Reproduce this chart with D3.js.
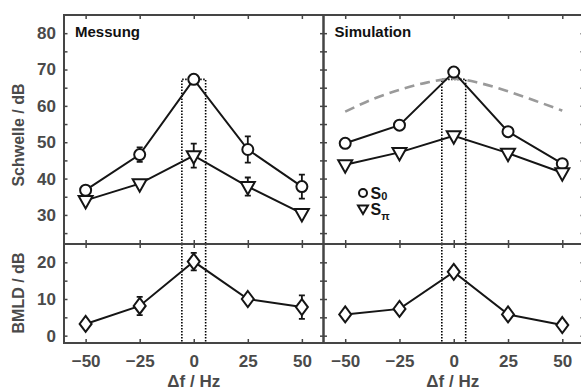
<!DOCTYPE html>
<html>
<head>
<meta charset="utf-8">
<script src="https://cdn.jsdelivr.net/npm/d3@7"></script>
<style>
  html, body { margin: 0; padding: 0; background: #fff; }
  svg { display: block; font-family: "Liberation Sans", Arial, sans-serif; font-weight: bold; }
</style>
</head>
<body>
<div id="chart"></div>
<script>
// values
const freqs = [-50, -25, 0, 25, 50];
const xTicks = [-50, -25, 0, 25, 50];
const yTopTicks = [30, 40, 50, 60, 70, 80];
const yBotTicks = [0, 10, 20];

const messS0 = [36.8, 46.6, 67.3, 48.0, 37.8];
const messS0Err = [0.8, 2.0, 0.8, 3.6, 3.3];
const messSpi = [34.0, 38.6, 46.3, 37.8, 30.4];
const messSpiErr = [0.5, 0.5, 3.3, 2.5, 0.5];

const simS0 = [49.7, 54.7, 69.3, 52.9, 44.1];
const simSpi = [43.8, 47.2, 51.8, 47.0, 41.6];

const messBmld = [3.2, 8.1, 20.2, 10.0, 7.8];
const messBmldErr = [0.5, 2.5, 2.4, 0.5, 3.2];
const simBmld = [5.8, 7.3, 17.4, 5.8, 2.9];

const curveFreqs = [-50, -37.5, -25, -12.5, 0, 12.5, 25, 37.5, 50];
const curveVals = [58.4, 61.8, 64.4, 66.4, 67.5, 66.2, 64.0, 61.4, 58.7];

const bandEdge = 5.5;    // dotted band half width, Hz
const bandTop = 67.3;    // dotted band top, dB

const W = 581, H = 391;
const AXIS = '#454545', TEXT = '#4a4a4a', INK = '#151515';

const svg = d3.select('#chart').append('svg')
  .attr('width', W).attr('height', H);

const yTop = d3.scaleLinear().domain([22, 85]).range([244, 15]);
const yBot = d3.scaleLinear().domain([-2, 25]).range([343, 244]);

const panels = [
  { title: 'Messung', x: d3.scaleLinear().domain([-60, 60]).range([64, 323.5]),
    s0: messS0, s0Err: messS0Err, spi: messSpi, spiErr: messSpiErr, bmld: messBmld, bmldErr: messBmldErr },
  { title: 'Simulation', x: d3.scaleLinear().domain([-60, 60]).range([323.5, 584]),
    s0: simS0, spi: simSpi, bmld: simBmld, curve: true, legend: true },
];

const triPath = 'M-7,-4.5L7,-4.5L0,8Z';
const diaPath = 'M0,-8L6,0L0,8L-6,0Z';

function errBars(g, x, y, vals, errs) {
  if (!errs) return;
  freqs.forEach((f, i) => {
    const cx = x(f), lo = y(vals[i] - errs[i]), hi = y(vals[i] + errs[i]);
    g.append('path')
      .attr('d', `M${cx},${lo}V${hi}M${cx - 3},${lo}H${cx + 3}M${cx - 3},${hi}H${cx + 3}`)
      .attr('stroke', INK).attr('stroke-width', 1.8).attr('fill', 'none');
  });
}

function series(g, x, y, vals, errs, marker) {
  g.append('path')
    .datum(vals)
    .attr('fill', 'none')
    .attr('stroke', INK)
    .attr('stroke-width', 2)
    .attr('d', d3.line().x((d, i) => x(freqs[i])).y((d) => y(d)));
  errBars(g, x, y, vals, errs);
  vals.forEach((v, i) => {
    const cx = x(freqs[i]), cy = y(v);
    if (marker === 'circle') {
      g.append('circle').attr('cx', cx).attr('cy', cy).attr('r', 5.5)
        .attr('fill', '#fff').attr('stroke', INK).attr('stroke-width', 2);
    } else {
      g.append('path').attr('d', marker === 'tri' ? triPath : diaPath)
        .attr('transform', `translate(${cx},${cy})`)
        .attr('fill', '#fff').attr('stroke', INK).attr('stroke-width', 2);
    }
  });
}

function styleAxis(sel) {
  sel.select('.domain').remove();
  sel.selectAll('line').attr('stroke', AXIS).attr('stroke-width', 1.5);
  sel.selectAll('text').attr('fill', TEXT).attr('font-size', 17).attr('font-weight', 'bold')
    .attr('font-family', '"Liberation Sans", Arial, sans-serif');
}

const y5Top = d3.range(25, 85, 5);
const y5Bot = d3.range(0, 25, 5);

panels.forEach((p, pi) => {
  const x = p.x;
  const [x0, x1] = x.range();
  const g = svg.append('g');

  // dotted band around 0 Hz
  const dots = g.append('g').attr('stroke', '#000').attr('stroke-width', 1.6)
    .attr('stroke-dasharray', '1.5,1.5').attr('fill', 'none');
  dots.append('path').attr('d',
    `M${x(-bandEdge)},${yTop(22)}V${yTop(bandTop)}H${x(bandEdge)}V${yTop(22)}`);
  [-bandEdge, bandEdge].forEach((f) => {
    dots.append('line').attr('x1', x(f)).attr('x2', x(f)).attr('y1', 244).attr('y2', 343);
  });

  if (p.curve) {
    g.append('path').datum(curveVals)
      .attr('fill', 'none').attr('stroke', '#9a9a9a').attr('stroke-width', 2.6)
      .attr('stroke-dasharray', '10,6')
      .attr('d', d3.line().curve(d3.curveMonotoneX)
        .x((d, i) => x(curveFreqs[i])).y((d) => yTop(d)));
  }

  series(g, x, yTop, p.s0, p.s0Err, 'circle');
  series(g, x, yTop, p.spi, p.spiErr, 'tri');
  series(g, x, yBot, p.bmld, p.bmldErr, 'dia');

  // ticks
  styleAxis(svg.append('g').attr('transform', 'translate(0,15)')
    .call(d3.axisTop(x).tickValues(xTicks).tickSize(-4).tickFormat('')));
  styleAxis(svg.append('g').attr('transform', 'translate(0,244)')
    .call(d3.axisTop(x).tickValues(xTicks).tickSize(4).tickFormat('')));
  styleAxis(svg.append('g').attr('transform', 'translate(0,244)')
    .call(d3.axisBottom(x).tickValues(xTicks).tickSize(4).tickFormat('')));
  const xb = svg.append('g').attr('transform', 'translate(0,343)')
    .call(d3.axisBottom(x).tickValues(xTicks).tickSize(-4).tickPadding(12).tickFormat(d3.format('d')));
  styleAxis(xb);

  const leftT = svg.append('g').attr('transform', `translate(${x0},0)`)
    .call(d3.axisLeft(yTop).tickValues(y5Top).tickSize(-3.5)
      .tickFormat((d) => (pi === 0 && yTopTicks.includes(d) ? d : '')).tickPadding(8));
  styleAxis(leftT);
  const leftB = svg.append('g').attr('transform', `translate(${x0},0)`)
    .call(d3.axisLeft(yBot).tickValues(y5Bot).tickSize(-3.5)
      .tickFormat((d) => (pi === 0 && yBotTicks.includes(d) ? d : '')).tickPadding(8));
  styleAxis(leftB);
  styleAxis(svg.append('g').attr('transform', `translate(${x1},0)`)
    .call(d3.axisRight(yTop).tickValues(y5Top).tickSize(-3.5).tickFormat('')));
  styleAxis(svg.append('g').attr('transform', `translate(${x1},0)`)
    .call(d3.axisRight(yBot).tickValues(y5Bot).tickSize(-3.5).tickFormat('')));

  // frame
  svg.append('rect').attr('x', x0).attr('y', 15).attr('width', x1 - x0).attr('height', 328)
    .attr('fill', 'none').attr('stroke', AXIS).attr('stroke-width', 2);
  svg.append('line').attr('x1', x0).attr('x2', x1).attr('y1', 244).attr('y2', 244)
    .attr('stroke', AXIS).attr('stroke-width', 2);

  svg.append('text').attr('x', x0 + 11).attr('y', 37)
    .attr('font-size', 15).attr('fill', '#111').text(p.title);

  svg.append('text').attr('x', (x0 + x1) / 2 - (pi === 1 ? 1 : 0)).attr('y', 387)
    .attr('text-anchor', 'middle').attr('font-size', 17).attr('fill', TEXT).text('Δf / Hz');

  if (p.legend) {
    const lg = svg.append('g');
    lg.append('circle').attr('cx', 363).attr('cy', 193).attr('r', 4)
      .attr('fill', '#fff').attr('stroke', INK).attr('stroke-width', 2);
    lg.append('path').attr('d', 'M-5,-3.5L5,-3.5L0,5Z').attr('transform', 'translate(363,209)')
      .attr('fill', '#fff').attr('stroke', INK).attr('stroke-width', 2);
    const t1 = lg.append('text').attr('x', 370.5).attr('y', 199).attr('font-size', 16).attr('fill', INK);
    t1.append('tspan').text('S');
    t1.append('tspan').attr('dy', 1).attr('font-size', 11).text('0');
    const t2 = lg.append('text').attr('x', 370.5).attr('y', 215).attr('font-size', 16).attr('fill', INK);
    t2.append('tspan').text('S');
    t2.append('tspan').attr('dy', 5).attr('font-size', 11).text('π');
  }
});

// y titles
svg.append('text').attr('transform', 'translate(24,135) rotate(-90)')
  .attr('text-anchor', 'middle').attr('font-size', 16).attr('fill', TEXT).text('Schwelle / dB');
svg.append('text').attr('transform', 'translate(24,293) rotate(-90)')
  .attr('text-anchor', 'middle').attr('font-size', 16).attr('fill', TEXT).text('BMLD / dB');
</script>
</body>
</html>
